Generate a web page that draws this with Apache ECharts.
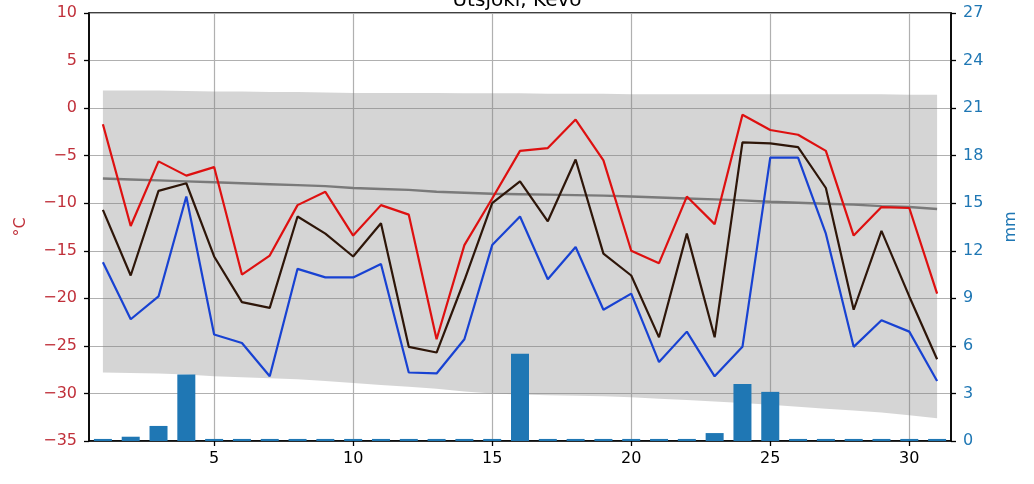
<!DOCTYPE html>
<html><head><meta charset="utf-8">
<script src="https://cdn.jsdelivr.net/npm/echarts@6/dist/echarts.min.js"></script>
<style>html,body{margin:0;padding:0;background:#fff}#c{width:1034px;height:484px}</style>
</head><body><div id="c"></div>
<script>
const days = [1,2,3,4,5,6,7,8,9,10,11,12,13,14,15,16,17,18,19,20,21,22,23,24,25,26,27,28,29,30,31];
const tMax = [-1.7,-12.4,-5.6,-7.1,-6.2,-17.5,-15.5,-10.2,-8.8,-13.4,-10.2,-11.2,-24.3,-14.4,-9.5,-4.5,-4.2,-1.2,-5.5,-15.0,-16.3,-9.3,-12.2,-0.7,-2.3,-2.8,-4.5,-13.4,-10.4,-10.5,-19.5];
const tMean = [-10.7,-17.6,-8.7,-7.9,-15.6,-20.4,-21.0,-11.4,-13.2,-15.6,-12.1,-25.1,-25.7,-18.1,-10.0,-7.7,-11.9,-5.4,-15.3,-17.6,-24.1,-13.2,-24.1,-3.6,-3.7,-4.1,-8.4,-21.2,-12.9,-19.8,-26.4];
const tMin = [-16.2,-22.2,-19.8,-9.3,-23.8,-24.7,-28.2,-16.9,-17.8,-17.8,-16.4,-27.8,-27.9,-24.3,-14.4,-11.4,-18.0,-14.6,-21.2,-19.5,-26.7,-23.5,-28.2,-25.1,-5.2,-5.2,-13.2,-25.1,-22.3,-23.5,-28.7];
const climMean = [-7.4,-7.5,-7.6,-7.7,-7.8,-7.9,-8.0,-8.1,-8.2,-8.4,-8.5,-8.6,-8.8,-8.9,-9.0,-9.05,-9.1,-9.15,-9.2,-9.3,-9.4,-9.5,-9.6,-9.7,-9.85,-9.95,-10.05,-10.15,-10.3,-10.4,-10.6];
const climHigh = [1.85,1.85,1.85,1.8,1.75,1.75,1.7,1.7,1.65,1.6,1.6,1.6,1.6,1.55,1.55,1.55,1.5,1.5,1.5,1.45,1.45,1.45,1.45,1.45,1.45,1.45,1.45,1.45,1.45,1.4,1.4];
const climLow = [-27.8,-27.85,-27.9,-28.0,-28.2,-28.3,-28.4,-28.5,-28.7,-28.9,-29.1,-29.3,-29.5,-29.8,-30.0,-30.1,-30.2,-30.25,-30.3,-30.4,-30.55,-30.7,-30.85,-31.0,-31.2,-31.4,-31.6,-31.8,-32.0,-32.3,-32.6];
const precip = [0.13,0.27,0.95,4.2,0.13,0.13,0.13,0.13,0.13,0.13,0.13,0.13,0.13,0.13,0.13,5.5,0.13,0.13,0.13,0.13,0.13,0.13,0.5,3.6,3.1,0.13,0.13,0.13,0.13,0.13,0.13];
const xTicks = [5,10,15,20,25,30];
const tempTicks = {min:-35, max:10, step:5};
const mmTicks = {min:0, max:27, step:3};
const title = 'Utsjoki, Kevo';

const pair = arr => arr.map((v,i)=>[days[i], v]);
const FONT = 'DejaVu Sans';
const minus = v => (v < 0 ? '\u2212' + Math.abs(v) : String(v));

const chart = echarts.init(document.getElementById('c'), null, {renderer:'canvas'});
chart.setOption({
  animation: false,
  backgroundColor: '#fff',
  title: {text: title, left: 'center', top: -14, textStyle:{fontFamily: FONT, fontSize: 20, fontWeight: 'normal', color:'#000'}},
  grid: {left: 89, right: 83, top: 13, bottom: 43, show: true, borderColor:'#000', borderWidth: 1.5, backgroundColor:'transparent'},
  xAxis: {
    type: 'value', min: 0.5, max: 31.5,
    axisLine: {show: true, onZero: false, lineStyle:{color:'#000', width:1.5}},
    axisTick: {show: true, customValues: xTicks, length: 5, lineStyle:{color:'#000', width:1.3}},
    axisLabel: {customValues: xTicks, color:'#000', fontFamily: FONT, fontSize: 16, margin: 10},
    splitLine: {show: true, lineStyle:{color:'#b0b0b0', width:1.2}}
  },
  yAxis: [{
    type: 'value', position: 'left', min: tempTicks.min, max: tempTicks.max, interval: tempTicks.step,
    name: '°C', nameLocation: 'middle', nameRotate: 90, nameGap: 60,
    nameTextStyle: {color:'#c0303a', fontFamily: FONT, fontSize: 16},
    axisLine: {show: true, onZero: false, lineStyle:{color:'#000', width:1.5}},
    axisTick: {show: true, length: 5, lineStyle:{color:'#000', width:1.3}},
    axisLabel: {color:'#c0303a', fontFamily: FONT, fontSize: 16, margin: 12, formatter: minus},
    splitLine: {show: true, lineStyle:{color:'#b0b0b0', width:1.2}}
  },{
    type: 'value', position: 'right', min: mmTicks.min, max: mmTicks.max, interval: mmTicks.step,
    name: 'mm', nameLocation: 'middle', nameRotate: 90, nameGap: 52,
    nameTextStyle: {color:'#1f77b4', fontFamily: FONT, fontSize: 16},
    axisLine: {show: true, onZero: false, lineStyle:{color:'#000', width:1.5}},
    axisTick: {show: true, length: 5, lineStyle:{color:'#000', width:1.3}},
    axisLabel: {color:'#1f77b4', fontFamily: FONT, fontSize: 16, margin: 12},
    splitLine: {show: false}
  }],
  series: [
    {type:'custom', name:'band', silent:true, z:1,
      data: days.map((d,i)=>[d, climLow[i], climHigh[i]]),
      encode: {x:0, y:[1,2]},
      renderItem: function (params, api) {
        if (params.dataIndex !== 0) return null;
        const pts = [];
        for (let i = 0; i < days.length; i++) pts.push(api.coord([days[i], climHigh[i]]));
        for (let i = days.length - 1; i >= 0; i--) pts.push(api.coord([days[i], climLow[i]]));
        return {type:'polygon', shape:{points: pts}, style:{fill:'rgba(128,128,128,0.33)'}};
      }
    },
    {type:'bar', name:'precip', yAxisIndex:1, data: pair(precip), barWidth: 18, itemStyle:{color:'#1f77b4'}, z:2},
    {type:'line', name:'clim', data: pair(climMean), symbol:'none', lineStyle:{color:'#7a7a7a', width:2.4}, z:3},
    {type:'line', name:'min', data: pair(tMin), symbol:'none', lineStyle:{color:'#1842d2', width:2.2}, z:4},
    {type:'line', name:'mean', data: pair(tMean), symbol:'none', lineStyle:{color:'#2e1609', width:2.2}, z:4},
    {type:'line', name:'max', data: pair(tMax), symbol:'none', lineStyle:{color:'#de1010', width:2.2}, z:4}
  ]
});
</script></body></html>
